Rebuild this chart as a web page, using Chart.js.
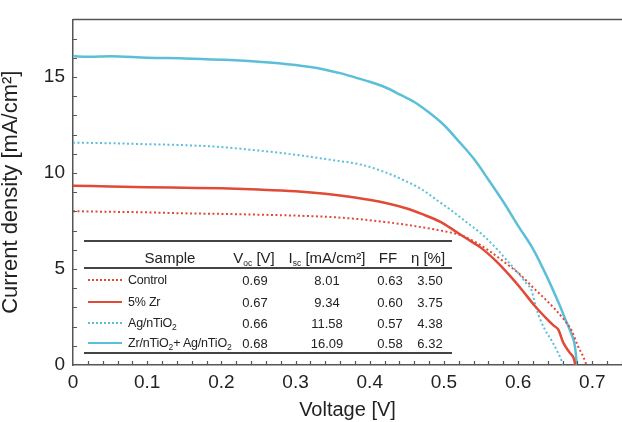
<!DOCTYPE html>
<html><head><meta charset="utf-8">
<script src="https://cdn.jsdelivr.net/npm/chart.js@4.4.0/dist/chart.umd.min.js"></script>
<style>
html,body{margin:0;padding:0;background:#fff;}
#wrap{position:relative;width:622px;height:422px;overflow:hidden;font-family:"Liberation Sans",Arial,sans-serif;color:#222;}
#c{position:absolute;left:0;top:0;}
.cell{position:absolute;transform:translate(-50%,-50%);white-space:nowrap;font-size:13px;line-height:1;}
.hdr{font-size:15px;}
.name{transform:translate(0,-50%);font-size:12.5px;letter-spacing:-0.2px;}
sub{font-size:8.5px;vertical-align:baseline;position:relative;top:3px;letter-spacing:0;}
.rule{position:absolute;height:2px;background:#444;}
.sw{position:absolute;width:34px;height:0;}
</style></head>
<body><div id="wrap"><canvas id="c" width="622" height="422"></canvas><div id="tbl"></div></div>
<script>
// ---- data ----
const vControl = [0,0.05,0.1,0.15,0.2,0.25,0.3,0.35,0.39,0.42,0.45,0.469,0.496,0.523,0.54,0.559,0.58,0.603,0.621,0.636,0.65,0.662,0.672,0.681,0.688,0.692];
const jControl = [8.01,7.98,7.95,7.9,7.87,7.83,7.78,7.7,7.58,7.45,7.3,7.18,7.0,6.75,6.45,6.0,5.4,4.7,4.0,3.45,2.9,2.35,1.8,0.95,0.42,0];
const vZr = [0,0.05,0.1,0.15,0.2,0.25,0.3,0.34,0.38,0.42,0.45,0.47,0.496,0.514,0.53,0.55,0.57,0.59,0.605,0.622,0.64,0.648,0.654,0.661,0.67,0.675,0.677];
const jZr = [9.34,9.3,9.26,9.23,9.2,9.14,9.05,8.92,8.72,8.45,8.15,7.87,7.44,7.0,6.6,6.1,5.42,4.6,3.92,3.1,2.35,2.05,1.85,1.15,0.62,0.35,0];
const vAg = [0,0.05,0.1,0.15,0.2,0.25,0.3,0.35,0.39,0.42,0.45,0.47,0.49,0.51,0.53,0.55,0.57,0.586,0.603,0.612,0.618,0.624,0.63,0.636,0.645,0.654,0.661];
const jAg = [11.58,11.55,11.5,11.45,11.35,11.17,10.95,10.67,10.42,10.05,9.55,9.15,8.6,8.05,7.45,6.85,6.1,5.4,4.65,4.2,3.9,3.0,2.35,1.85,1.28,0.62,0];
const vBoth = [0,0.02,0.05,0.1,0.15,0.2,0.25,0.3,0.32,0.34,0.36,0.38,0.4,0.42,0.44,0.46,0.48,0.5,0.52,0.54,0.56,0.58,0.6,0.62,0.64,0.655,0.665,0.672,0.676,0.678,0.679];
const jBoth = [16.09,16.05,16.08,16.0,15.97,15.9,15.8,15.63,15.52,15.38,15.2,14.98,14.75,14.48,14.1,13.7,13.15,12.5,11.65,10.75,9.65,8.5,7.25,6.05,4.5,3.2,2.25,1.6,1.1,0.5,0];

const sampleNames = ['Control','5% Zr','Ag/nTiO<sub>2</sub>','Zr/nTiO<sub>2</sub>+ Ag/nTiO<sub>2</sub>'];
const vocValues = ['0.69','0.67','0.66','0.68'];
const iscValues = ['8.01','9.34','11.58','16.09'];
const ffValues = ['0.63','0.60','0.57','0.58'];
const etaValues = ['3.50','3.75','4.38','6.32'];
const headers = ['Sample','V<sub>oc</sub> [V]','I<sub>sc</sub> [mA/cm²]','FF','η [%]'];
const xTickLabels = ['0','0.1','0.2','0.3','0.4','0.5','0.6','0.7'];
const yTickLabels = ['0','5','10','15'];

const RED = '#e04a36', BLUE = '#5bbfd9';
const FONT = '"Liberation Sans", Arial, sans-serif';
const pts = (v, j) => v.map((x, i) => ({x, y: j[i]}));

const innerTicks = {
  id: 'innerTicks',
  afterDraw(chart) {
    const {ctx, chartArea: a, scales: {x, y}} = chart;
    ctx.save();
    ctx.strokeStyle = '#555'; ctx.lineWidth = 1.2;
    ctx.beginPath();
    for (let i = 1; i <= 37; i++) { const px = Math.round(x.getPixelForValue(i * 0.02)) + 0.5; ctx.moveTo(px, a.bottom); ctx.lineTo(px, a.bottom - 4); }
    for (let i = 1; i <= 18; i++) { const py = Math.round(y.getPixelForValue(i)) + 0.5; ctx.moveTo(a.left, py); ctx.lineTo(a.left + 4, py); }
    ctx.stroke();
    ctx.lineWidth = 1.5;
    ctx.beginPath(); ctx.moveTo(a.left, a.top); ctx.lineTo(a.right, a.top); ctx.stroke();
    ctx.restore();
  }
};

const ds = (label, v, j, color, dotted) => ({
  label, data: pts(v, j), showLine: true, pointRadius: 0, borderColor: color,
  borderWidth: dotted ? 2 : 2.5, borderDash: dotted ? [2, 2.5] : [], cubicInterpolationMode: 'monotone', fill: false
});

new Chart(document.getElementById('c'), {
  type: 'scatter',
  data: { datasets: [
    ds('Control', vControl, jControl, RED, true),
    ds('5% Zr', vZr, jZr, RED, false),
    ds('Ag/nTiO2', vAg, jAg, BLUE, true),
    ds('Zr/nTiO2+ Ag/nTiO2', vBoth, jBoth, BLUE, false)
  ]},
  options: {
    responsive: false, animation: false,
    layout: { padding: { top: 14, right: 0, left: 0, bottom: 0 } },
    plugins: { legend: { display: false }, tooltip: { enabled: false } },
    scales: {
      x: {
        type: 'linear', min: 0, max: 0.74,
        afterFit: s => { s.height = 57; },
        grid: { display: true, drawOnChartArea: false, drawTicks: false },
        border: { display: true, color: '#555', width: 1.5 },
        ticks: { stepSize: 0.1, includeBounds: false, padding: 6, color: '#222',
          font: { family: FONT, size: 19 },
          callback: (v) => { const i = Math.round(v * 10); return xTickLabels[i] ?? ''; } },
        title: { display: true, text: 'Voltage [V]', color: '#222', padding: 0,
          font: { family: FONT, size: 20 } }
      },
      y: {
        type: 'linear', min: 0, max: 18,
        afterFit: s => { s.width = 73; },
        grid: { display: true, drawOnChartArea: false, drawTicks: false },
        border: { display: true, color: '#555', width: 1.5 },
        ticks: { stepSize: 5, includeBounds: false, padding: 8, color: '#222',
          font: { family: FONT, size: 19 },
          callback: (v) => yTickLabels[Math.round(v / 5)] ?? '' },
        title: { display: true, text: 'Current density [mA/cm²]', color: '#222', padding: { top: -2, bottom: 0 },
          font: { family: FONT, size: 22 } }
      }
    }
  },
  plugins: [innerTicks]
});

// ---- table overlay ----
const tbl = document.getElementById('tbl');
const add = (html, cls, left, top) => { const d = document.createElement('div'); d.className = cls; d.innerHTML = html; d.style.left = left + 'px'; d.style.top = top + 'px'; tbl.appendChild(d); return d; };
const rule = (top) => { const d = document.createElement('div'); d.className = 'rule'; d.style.left = '84px'; d.style.width = '368px'; d.style.top = top + 'px'; tbl.appendChild(d); };
rule(240); rule(267); rule(352);
const hdrX = [170, 254, 327, 388, 428];
headers.forEach((h, i) => add(h, 'cell hdr', hdrX[i], 257));
const rowY = [280, 301.5, 322.5, 343];
const swStyles = [`2px dotted ${RED}`, `2.5px solid ${RED}`, `2px dotted ${BLUE}`, `2.5px solid ${BLUE}`];
sampleNames.forEach((n, i) => {
  const sw = document.createElement('div'); sw.className = 'sw'; sw.style.left = '88px'; sw.style.top = (rowY[i] - 1) + 'px'; sw.style.borderTop = swStyles[i]; tbl.appendChild(sw);
  add(n, 'cell name', 128, rowY[i]);
  add(vocValues[i], 'cell', 255, rowY[i]);
  add(iscValues[i], 'cell', 327, rowY[i]);
  add(ffValues[i], 'cell', 390, rowY[i]);
  add(etaValues[i], 'cell', 430, rowY[i]);
});
</script>
</body></html>
